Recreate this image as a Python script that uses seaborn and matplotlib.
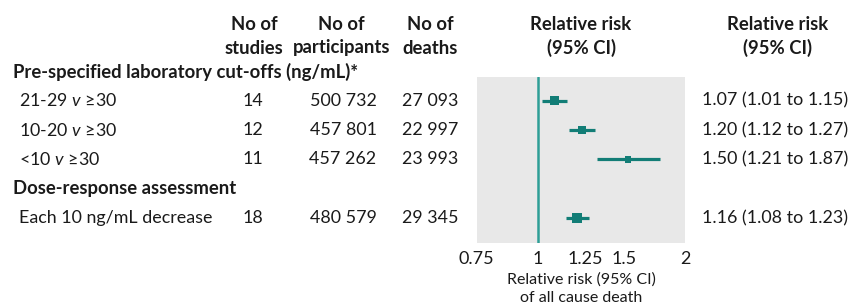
import pandas as pd
import matplotlib
matplotlib.use('Agg')
import matplotlib.pyplot as plt
import matplotlib.transforms as mtransforms
from matplotlib.ticker import NullLocator
import seaborn as sns

# data
groups = ['Pre-specified laboratory cut-offs (ng/mL)*', 'Dose-response assessment']
labels = ['21-29 $\\mathit{v}$ ≥30', '10-20 $\\mathit{v}$ ≥30', '<10 $\\mathit{v}$ ≥30',
          'Each 10 ng/mL decrease']
n_studies = ['14', '12', '11', '18']
n_participants = ['500 732', '457 801', '457 262', '480 579']
n_deaths = ['27 093', '22 997', '23 993', '29 345']
rr_text = ['1.07 (1.01 to 1.15)', '1.20 (1.12 to 1.27)', '1.50 (1.21 to 1.87)',
           '1.16 (1.08 to 1.23)']
rr = [1.08, 1.23, 1.53, 1.20]
ci_lo = [1.02, 1.16, 1.32, 1.14]
ci_hi = [1.15, 1.31, 1.78, 1.27]
weight = [42, 30, 22, 52]
row_pos = [1, 2, 3, 5]
group_pos = [0, 4]
xticks = [0.75, 1, 1.25, 1.5, 2]
xticklabels = ['0.75', '1', '1.25', '1.5', '2']

sns.set_style('white')
plt.rcParams['font.family'] = ['Lato', 'DejaVu Sans']
plt.rcParams['mathtext.fontset'] = 'custom'
plt.rcParams['mathtext.rm'] = 'Lato'
plt.rcParams['mathtext.it'] = 'Lato:italic'

teal = '#127d76'
W, H = 855, 307
fig = plt.figure(figsize=(W / 100, H / 100), dpi=100)
ax = fig.add_axes([476.7 / W, 1 - 243 / H, (685 - 476.7) / W, (243 - 76.7) / H])
ax.set_facecolor('#e8e8e8')

df = pd.DataFrame({'rr': rr, 'pos': row_pos, 'lo': ci_lo, 'hi': ci_hi, 'w': weight})
ax.axvline(1, color='#2e9e96', lw=1.8, zorder=1)
ax.hlines(df['pos'], df['lo'], df['hi'], color=teal, lw=2.3, zorder=2)
sns.scatterplot(data=df, x='rr', y='pos', size='w', sizes=(min(weight), max(weight)),
                size_norm=(min(weight), max(weight)), marker='s', color=teal,
                linewidth=0, legend=False, ax=ax, zorder=3)

ax.set_xscale('log')
ax.set_xlim(0.75, 2)
ax.set_ylim(5.853, 0.177)
ax.set_xticks(xticks)
ax.set_xticklabels(xticklabels)
ax.xaxis.set_minor_locator(NullLocator())
ax.set_yticks([])
ax.set_xlabel('')
ax.set_ylabel('')
ax.tick_params(axis='x', direction='in', color='white', length=4, width=1,
               labelsize=13, pad=6, labelcolor='#1a1a1a')
for s in ax.spines.values():
    s.set_visible(False)

# table text
tr = mtransforms.blended_transform_factory(fig.transFigure, ax.transData)
fs = 12.9
fb = 13.3
txt = '#1a1a1a'
for g, p in zip(groups, group_pos):
    ax.text(13 / W, p, g, transform=tr, fontsize=fb, fontweight='bold',
            va='center', ha='left', color=txt, clip_on=False)
for i, p in enumerate(row_pos):
    ax.text(19 / W, p, labels[i], transform=tr, fontsize=fs, va='center', ha='left', color=txt)
    ax.text(253 / W, p, n_studies[i], transform=tr, fontsize=fs, va='center', ha='center', color=txt)
    ax.text(343 / W, p, n_participants[i], transform=tr, fontsize=fs, va='center', ha='center', color=txt)
    ax.text(458 / W, p, n_deaths[i], transform=tr, fontsize=fs, va='center', ha='right', color=txt)
    ax.text(702 / W, p, rr_text[i], transform=tr, fontsize=fs, va='center', ha='left', color=txt)

# column headers
headers = [(254, ['No of', 'studies']), (341.5, ['No of', 'participants']),
           (430.5, ['No of', 'deaths']), (581, ['Relative risk', '(95% CI)']),
           (777.5, ['Relative risk', '(95% CI)'])]
for x, lines in headers:
    for line, y in zip(lines, [25, 48]):
        fig.text(x / W, 1 - y / H, line, fontsize=fb, fontweight='bold',
                 ha='center', va='center', color=txt)

fig.text(581 / W, 1 - 280 / H, 'Relative risk (95% CI)', fontsize=11.5, ha='center', va='center', color=txt)
fig.text(581 / W, 1 - 298 / H, 'of all cause death', fontsize=11.5, ha='center', va='center', color=txt)

fig.savefig('out.png', dpi=100)
